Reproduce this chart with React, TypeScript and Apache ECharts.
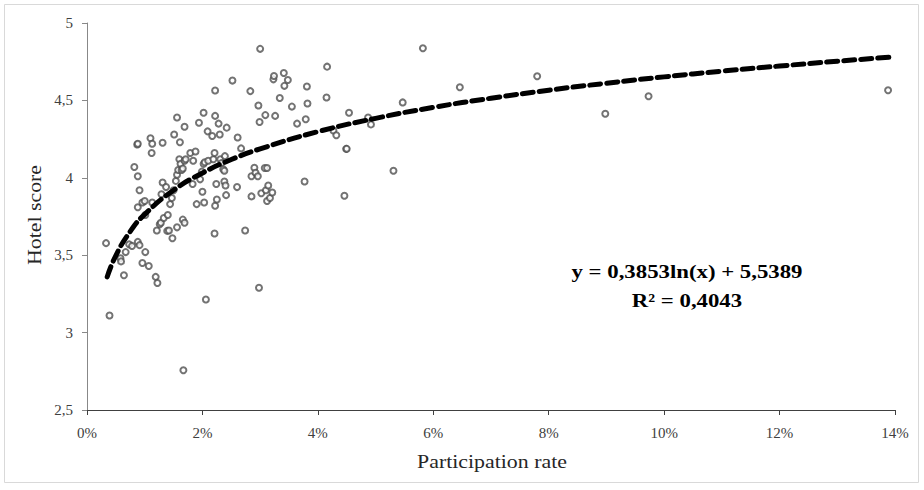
import React, { useEffect, useRef } from "react";
import * as echarts from "echarts";

// Participation rate (%) of each hotel
const participationRate = [
  0.33, 0.39, 0.58, 0.59, 0.64, 0.67, 0.73, 0.78, 0.82, 0.87, 0.88, 0.88, 0.91, 0.88, 0.88, 0.91, 0.96, 0.96, 1.0, 1.01,
  1.01, 1.07, 1.1, 1.13, 1.12, 1.13, 1.19, 1.22, 1.21, 1.26, 1.28, 1.29, 1.31, 1.31, 1.33, 1.37, 1.39, 1.4, 1.42, 1.44,
  1.47, 1.48, 1.51, 1.5, 1.54, 1.56, 1.56, 1.56, 1.58, 1.61, 1.6, 1.62, 1.64, 1.66, 1.66, 1.69, 1.69, 1.69, 1.71, 1.67,
  1.79, 1.83, 1.84, 1.88, 1.9, 1.94, 1.96, 1.99, 2.0, 2.02, 2.03, 2.02, 2.04, 2.06, 2.09, 2.1, 2.17, 2.19, 2.21, 2.21,
  2.22, 2.22, 2.22, 2.24, 2.25, 2.28, 2.3, 2.31, 2.33, 2.36, 2.38, 2.38, 2.4, 2.41, 2.39, 2.42, 2.52, 2.6, 2.61, 2.67,
  2.74, 2.83, 2.85, 2.85, 2.9, 2.92, 2.96, 2.97, 2.98, 2.99, 3.0, 3.02, 3.08, 3.09, 3.1, 3.12, 3.12, 3.14, 3.17, 3.21,
  3.23, 3.24, 3.26, 3.34, 3.41, 3.42, 3.48, 3.55, 3.64, 3.77, 3.79, 3.81, 3.82, 4.16, 4.15, 4.27, 4.32, 4.46, 4.49, 4.5,
  4.54, 4.87, 4.92, 5.31, 5.47, 5.82, 6.46, 7.8, 8.98, 9.73, 13.88,
];

// Hotel score of each hotel
const hotelScore = [
  3.578, 3.11, 3.48, 3.46, 3.37, 3.52, 3.57, 3.56, 4.07, 4.215, 4.22, 4.01, 3.92, 3.81, 3.586, 3.565, 3.45, 3.84, 3.85, 3.76,
  3.52, 3.43, 4.256, 4.22, 4.16, 3.84, 3.36, 3.32, 3.66, 3.7, 3.71, 3.894, 4.226, 3.97, 3.74, 3.94, 3.657, 3.76, 3.66, 3.83,
  3.87, 3.61, 4.28, 3.92, 3.98, 4.39, 3.68, 4.02, 4.05, 4.23, 4.12, 4.09, 4.05, 4.06, 3.73, 3.71, 4.33, 4.11, 4.12, 2.757,
  4.16, 3.96, 4.11, 4.17, 3.83, 4.356, 3.99, 4.04, 3.91, 4.42, 3.84, 4.09, 4.1, 3.214, 4.3, 4.11, 4.27, 4.12, 4.16, 3.64,
  4.564, 4.4, 3.82, 3.96, 3.86, 4.35, 4.28, 4.12, 4.095, 4.055, 4.046, 3.976, 3.95, 3.888, 4.14, 4.324, 4.628, 3.94, 4.26, 4.19,
  3.66, 4.56, 4.01, 3.88, 4.065, 4.033, 4.01, 4.467, 3.29, 4.36, 4.833, 3.9, 4.063, 4.405, 3.92, 4.063, 3.85, 3.95, 3.87, 3.905,
  4.636, 4.658, 4.4, 4.515, 4.677, 4.594, 4.632, 4.46, 4.35, 3.976, 4.378, 4.59, 4.48, 4.718, 4.519, 4.305, 4.275, 3.884, 4.187, 4.187,
  4.42, 4.39, 4.345, 4.046, 4.487, 4.837, 4.585, 4.656, 4.414, 4.527, 4.566,
];

// Logarithmic trend line
const trendRate = [0.35, 0.5, 0.75, 1, 1.5, 2, 2.5, 3, 4, 5, 6, 7, 8, 9, 10, 11, 12, 13, 13.9];
const trendScore = [3.36, 3.498, 3.654, 3.764, 3.92, 4.031, 4.118, 4.187, 4.298, 4.384, 4.455, 4.514, 4.566, 4.611, 4.652, 4.689, 4.722, 4.753, 4.779];

const xTitle = "Participation rate";
const yTitle = "Hotel score";
const equationText = "y = 0,3853ln(x) + 5,5389";
const r2Text = "R² = 0,4043";

export default function App() {
  const ref = useRef<HTMLDivElement>(null);
  useEffect(() => {
    if (!ref.current) return;
    const chart = echarts.init(ref.current, undefined, { renderer: "svg" });
    const font = "'Liberation Serif', 'DejaVu Serif', serif";
    chart.setOption({
      animation: false,
      backgroundColor: "#fff",
      grid: { left: 87, right: 29, top: 23, bottom: 80 },
      xAxis: {
        type: "value",
        min: 0,
        max: 14,
        interval: 2,
        axisLine: { lineStyle: { color: "#404040", width: 1 } },
        axisTick: { show: true, length: 5, lineStyle: { color: "#404040" } },
        axisLabel: { formatter: (v: number) => `${v}%`, fontFamily: font, fontSize: 15, color: "#404040", margin: 15 },
        splitLine: { show: false },
      },
      yAxis: {
        type: "value",
        min: 2.5,
        max: 5,
        interval: 0.5,
        axisLine: { show: true, lineStyle: { color: "#888", width: 1 } },
        axisTick: { show: true, length: 5, lineStyle: { color: "#888" } },
        axisLabel: { formatter: (v: number) => String(v).replace(".", ","), fontFamily: font, fontSize: 15, color: "#404040", margin: 14 },
        splitLine: { show: false },
      },
      series: [
        {
          type: "scatter",
          data: participationRate.map((x, i) => [x, hotelScore[i]]),
          symbol: "emptyCircle",
          symbolSize: 6,
          itemStyle: { color: "#505050", borderWidth: 0.8 },
          z: 2,
        },
        {
          type: "line",
          data: trendRate.map((x, i) => [x, trendScore[i]]),
          smooth: true,
          showSymbol: false,
          symbol: "none",
          lineStyle: { color: "#000", width: 5, type: [11, 6], cap: "round" },
          z: 3,
        },
      ],
      graphic: [
        {
          type: "rect",
          shape: { x: 4.5, y: 4.5, width: 914, height: 478 },
          style: { fill: "none", stroke: "#d9d9d9", lineWidth: 1 },
          silent: true,
        },
        {
          type: "text",
          x: 492,
          y: 462,
          scaleX: 1.15,
          style: { text: xTitle, font: `19px ${font}`, fill: "#262626", align: "center", verticalAlign: "middle" },
        },
        {
          type: "text",
          x: 35,
          y: 215,
          rotation: Math.PI / 2,
          scaleX: 1.15,
          style: { text: yTitle, font: `19px ${font}`, fill: "#262626", align: "center", verticalAlign: "middle" },
        },
        {
          type: "text",
          x: 687,
          y: 272,
          scaleX: 1.2,
          style: { text: equationText, font: `bold 19px ${font}`, fill: "#000", align: "center", verticalAlign: "middle" },
        },
        {
          type: "text",
          x: 687,
          y: 301,
          scaleX: 1.2,
          style: { text: r2Text, font: `bold 19px ${font}`, fill: "#000", align: "center", verticalAlign: "middle" },
        },
      ],
    });
    return () => chart.dispose();
  }, []);
  return <div ref={ref} style={{ position: "fixed", left: 0, top: 0, width: 924, height: 490 }} />;
}
